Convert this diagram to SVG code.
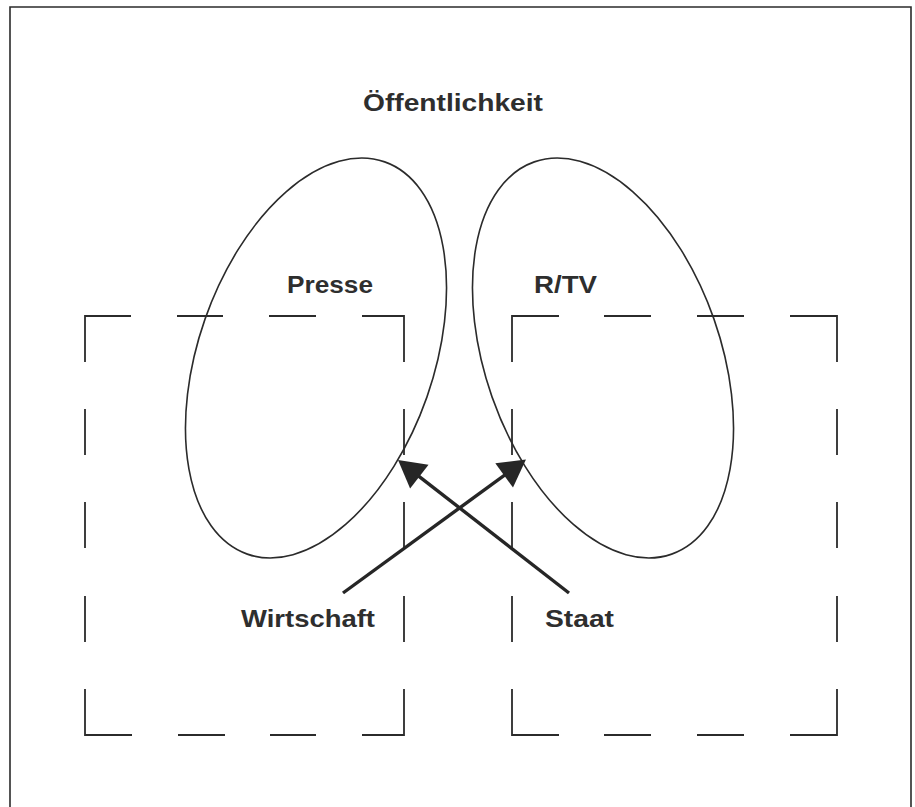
<svg xmlns="http://www.w3.org/2000/svg" width="915" height="807" viewBox="0 0 915 807">
  <style>
    .frame { fill: none; stroke: #2b2b2b; stroke-width: 1.6; }
    .ell { fill: none; stroke: #2b2b2b; stroke-width: 1.6; }
    .dash { fill: none; stroke: #2b2b2b; stroke-width: 1.8; stroke-linejoin: miter; }
    .arrow { fill: none; stroke: #262626; stroke-width: 3.4; stroke-linecap: butt; }
    .lbl { font-family: "Liberation Sans", Arial, Helvetica, sans-serif; font-weight: bold; font-size: 24px; fill: #2e2e2e; }
  </style>
  <defs>
    <marker id="head" markerUnits="userSpaceOnUse" markerWidth="40" markerHeight="40" viewBox="-10 -20 40 40" refX="0" refY="0" orient="auto">
      <path d="M-7,-15 L20,0 L-7,15 Z" fill="#262626"/>
    </marker>
  </defs>
  <rect x="0" y="0" width="915" height="807" fill="#ffffff"/>
  <path class="frame" d="M10,807 V7 H911 V807"/>

  <g id="node-oeffentlichkeit">
    <text class="lbl" x="363" y="111" textLength="180" lengthAdjust="spacingAndGlyphs">Öffentlichkeit</text>
  </g>

  <g id="node-wirtschaft">
    <path class="dash" d="M85,362 V316 H131 M177,316 H223 M269,316 H316 M362,316 H404 V362 M85,409 V455 M85,502 V548 M85,596 V642 M85,689 V735 H132 M178,735 H225 M270,735 H316 M362,735 H404 V689 M404,409 V455 M404,502 V548 M404,596 V642"/>
    <text class="lbl" x="241" y="627" textLength="134" lengthAdjust="spacingAndGlyphs">Wirtschaft</text>
  </g>

  <g id="node-staat">
    <path class="dash" d="M512,362 V316 H559 M604,316 H651 M697,316 H744 M790,316 H837 V362 M512,409 V455 M512,502 V548 M512,596 V642 M512,689 V735 H559 M604,735 H651 M697,735 H744 M790,735 H837 V689 M837,409 V455 M837,502 V548 M837,596 V642"/>
    <text class="lbl" x="545" y="627" textLength="69" lengthAdjust="spacingAndGlyphs">Staat</text>
  </g>

  <g id="node-presse">
    <ellipse class="ell" cx="316" cy="358" rx="117.6" ry="207.8" transform="rotate(19.3 316 358)"/>
    <text class="lbl" x="287" y="293" textLength="86" lengthAdjust="spacingAndGlyphs">Presse</text>
  </g>

  <g id="node-rtv">
    <ellipse class="ell" cx="603" cy="358" rx="117.6" ry="207.8" transform="rotate(-19.3 603 358)"/>
    <text class="lbl" x="534" y="293" textLength="63" lengthAdjust="spacingAndGlyphs">R/TV</text>
  </g>

  <g id="connectors">
    <line class="arrow" x1="569" y1="593" x2="413.8" y2="472.3" marker-end="url(#head)"/>
    <line class="arrow" x1="343" y1="593" x2="509.8" y2="471.3" marker-end="url(#head)"/>
  </g>
</svg>
